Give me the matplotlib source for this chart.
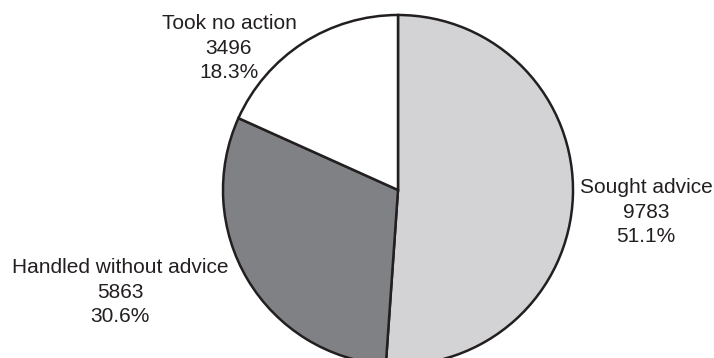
import matplotlib
matplotlib.use("Agg")
import matplotlib.pyplot as plt

categories = ["Sought advice", "Handled without advice", "Took no action"]
values = [9783, 5863, 3496]
percents = ["51.1%", "30.6%", "18.3%"]
colors = ["#d3d3d5", "#808184", "#ffffff"]
label_pos = [(1.417, -0.126), (-1.589, -0.583), (-0.966, 0.811)]

plt.rcParams['font.family'] = ['Liberation Sans', 'DejaVu Sans']

fig = plt.figure(figsize=(7.14, 3.58), dpi=100)
ax = fig.add_axes([0, 0, 1, 1])
ax.pie(values, colors=colors, startangle=90, counterclock=False, radius=1.0,
       wedgeprops=dict(edgecolor="#231f20", linewidth=1.8))
for cat, v, p, (x, y) in zip(categories, values, percents, label_pos):
    ax.text(x, y, f"{cat}\n{v}\n{p}", ha="center", va="center", fontsize=15,
            color="#231f20", linespacing=1.37)
ax.set_xlim(-398/175, 316/175)
ax.set_ylim(-168/175, 190/175)
ax.set_aspect('auto')
ax.axis('off')
fig.savefig("out.png", dpi=100)
